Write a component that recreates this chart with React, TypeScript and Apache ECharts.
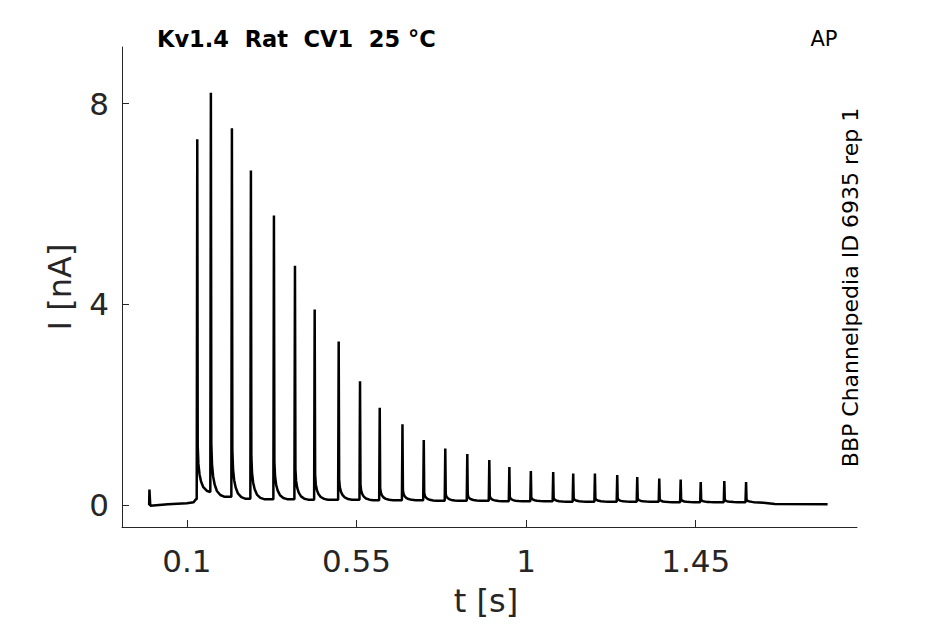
import React, { useEffect, useRef } from "react";
import * as echarts from "echarts";

// ---- data ----
const titleText = "Kv1.4  Rat  CV1  25 °C";
const cornerText = "AP";
const sideText = "BBP Channelpedia ID 6935 rep 1";

const xTicks = [0.1, 0.55, 1, 1.45];
const yTicks = [0, 4, 8];

// recording before the AP train (s, nA)
const preTimes = [0, 0.0008, 0.003, 0.05, 0.1, 0.118, 0.124];
const preValues = [0.0, 0.31, -0.01, 0.02, 0.04, 0.06, 0.12];

// AP-evoked current peaks
const spikeTimes = [
  0.1277, 0.1638, 0.2196, 0.27, 0.3311, 0.3869, 0.4392, 0.5029, 0.5595,
  0.6118, 0.6721, 0.7286, 0.7857, 0.8441, 0.9025, 0.9557, 1.0127, 1.072,
  1.1251, 1.1827, 1.2419, 1.295, 1.3534, 1.4102, 1.4634, 1.526, 1.5837,
];
const spikePeaks = [
  7.29, 8.22, 7.51, 6.67, 5.77, 4.77, 3.9, 3.26, 2.47, 1.94, 1.61, 1.3, 1.13,
  1.02, 0.9, 0.76, 0.68, 0.66, 0.63, 0.63, 0.6, 0.56, 0.53, 0.51, 0.46, 0.48,
  0.46,
];
// current level just before each spike
const spikeBaselines = [
  0.12, 0.26, 0.17, 0.13, 0.12, 0.12, 0.11, 0.11, 0.11, 0.1, 0.1, 0.1, 0.09,
  0.09, 0.09, 0.08, 0.08, 0.08, 0.07, 0.07, 0.07, 0.07, 0.07, 0.06, 0.06, 0.06,
  0.06,
];
// decay after a peak: time after peak (s) and remaining fraction of the peak height
const decayDelays = [0.0012, 0.003, 0.006, 0.01, 0.016, 0.025, 0.035];
const decayFractions = [0.13, 0.08, 0.05, 0.03, 0.014, 0.004, 0];

// recording after the train
const tailTimes = [1.605, 1.63, 1.66, 1.8];
const tailValues = [0.06, 0.05, 0.025, 0.02];

function buildTrace(): number[][] {
  const pts: number[][] = [];
  preTimes.forEach((t, i) => pts.push([t, preValues[i]]));
  const n = spikeTimes.length;
  spikeTimes.forEach((t, i) => {
    const level = spikeBaselines[i];
    const nextLevel = i + 1 < n ? spikeBaselines[i + 1] : tailValues[0];
    const nextT = i + 1 < n ? spikeTimes[i + 1] : tailTimes[0];
    pts.push([t - 0.0015, level]);
    pts.push([t, spikePeaks[i]]);
    decayDelays.forEach((d, k) => {
      if (t + d < nextT - 0.003) {
        pts.push([t + d, nextLevel + decayFractions[k] * (spikePeaks[i] - nextLevel)]);
      }
    });
  });
  tailTimes.forEach((t, i) => pts.push([t, tailValues[i]]));
  return pts;
}

const AXIS_COLOR = "#262626";
const FONT = "DejaVu Sans";

export default function App() {
  const ref = useRef<HTMLDivElement>(null);

  useEffect(() => {
    if (!ref.current) return;
    const chart = echarts.init(ref.current, undefined, { renderer: "svg" });
    chart.setOption({
      animation: false,
      backgroundColor: "#ffffff",
      grid: { left: 122, right: 88, top: 47, bottom: 97, containLabel: false, outerBoundsMode: "none" },
      xAxis: {
        type: "value",
        min: -0.072,
        max: 1.878,
        name: "t [s]",
        nameLocation: "middle",
        nameGap: 58,
        nameMoveOverlap: false,
        nameTextStyle: { fontFamily: FONT, fontSize: 32, color: AXIS_COLOR, padding: [0, 7, 0, 0] },
        axisLine: { show: true, onZero: false, lineStyle: { color: AXIS_COLOR, width: 1 } },
        axisTick: { show: true, inside: true, length: 7, customValues: xTicks, lineStyle: { color: AXIS_COLOR } },
        axisLabel: {
          show: true,
          customValues: xTicks,
          margin: 18,
          fontFamily: FONT,
          fontSize: 31,
          color: AXIS_COLOR,
        },
        splitLine: { show: false },
      },
      yAxis: {
        type: "value",
        min: -0.435,
        max: 9.13,
        name: "I [nA]",
        nameLocation: "middle",
        nameGap: 46,
        nameMoveOverlap: false,
        nameTextStyle: { fontFamily: FONT, fontSize: 32, color: AXIS_COLOR },
        axisLine: { show: true, onZero: false, lineStyle: { color: AXIS_COLOR, width: 1 } },
        axisTick: { show: true, inside: true, length: 7, customValues: yTicks, lineStyle: { color: AXIS_COLOR } },
        axisLabel: {
          show: true,
          customValues: yTicks,
          margin: 13,
          fontFamily: FONT,
          fontSize: 31,
          color: AXIS_COLOR,
        },
        splitLine: { show: false },
      },
      series: [
        {
          type: "line",
          data: buildTrace(),
          showSymbol: false,
          symbol: "none",
          silent: true,
          lineStyle: { color: "#000000", width: 2.5 },
        },
      ],
      graphic: [
        {
          type: "text",
          x: 157,
          y: 39,
          style: {
            text: titleText,
            fontFamily: FONT,
            fontSize: 22.5,
            fontWeight: "bold",
            fill: "#000000",
            align: "left",
            verticalAlign: "middle",
          },
        },
        {
          type: "text",
          x: 810.5,
          y: 39,
          style: {
            text: cornerText,
            fontFamily: FONT,
            fontSize: 21,
            fill: "#000000",
            align: "left",
            verticalAlign: "middle",
          },
        },
        {
          type: "text",
          x: 850,
          y: 287.5,
          rotation: Math.PI / 2,
          style: {
            text: sideText,
            fontFamily: FONT,
            fontSize: 22,
            fill: "#000000",
            align: "center",
            verticalAlign: "middle",
          },
        },
      ],
    });
    return () => chart.dispose();
  }, []);

  return (
    <div
      ref={ref}
      style={{ position: "fixed", left: 0, top: 0, width: 945, height: 624, background: "#fff" }}
    />
  );
}
